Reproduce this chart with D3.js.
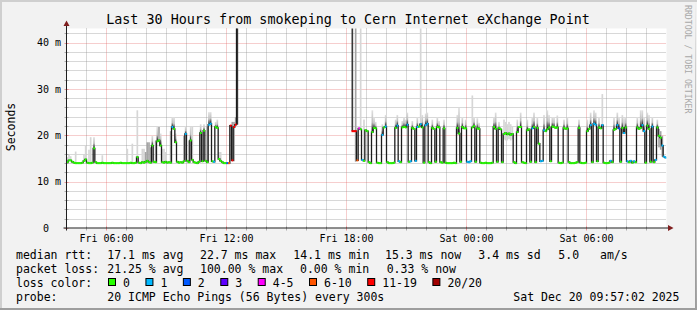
<!DOCTYPE html>
<html>
<head>
<meta charset="utf-8">
<script src="https://cdn.jsdelivr.net/npm/d3@7"></script>
<style>
  html, body { margin: 0; padding: 0; background: #f2f2f2; }
  svg { display: block; }
  text { font-family: "DejaVu Sans Mono", monospace; fill: #000; }
</style>
</head>
<body>
<svg id="chart" width="697" height="310"></svg>
<script>
// 5 minute steps from Fri 04:00, one row per hour
const start = new Date(2025, 11, 19, 4, 0)
const end = new Date(2025, 11, 20, 10, 0)
const stepMinutes = 5

const median = [
  14.3, 14.7, 14.7, 14.4, 14.2, 14.1, 14.1, 14.1, 14.1, 14.2, 14.6, 14.9,
  14.2, 14.1, 14.1, 14.2, 17.3, 14.3, 14.1, 14.1, 14.1, 14.2, 14.1, 14.1,
  14.1, 14.1, 14.1, 14.2, 14.1, 14.1, 14.1, 14.1, 14.2, 14.1, 14.1, 14.1,
  14.1, 14.1, 14.2, 14.1, 14.1, 14.2, 15.4, 14.2, 14.1, 14.3, 14.2, 14.4,
  14.6, 14.3, 14.2, 17.9, 14.4, 14.3, 18.8, 19.0, 17.9, 14.3, 14.2, 14.4,
  14.2, 14.3, 14.2, 21.9, 21.5, 18.6, 14.4, 14.2, 14.3, 14.2, 14.5, 20.4,
  14.6, 14.3, 19.0, 14.8, 14.3, 14.2, 14.1, 14.4, 20.6, 14.5, 21.1, 14.6,
  14.3, 22.4, 22.6, 14.5, 14.4, 21.9, 21.7, 15.0, 14.6, 14.3, 14.1, 14.1,
  14.1, 14.1, 22.2, 14.7, 21.9, 22.4, 80, null, null, null, null, null,
  null, null, null, null, null, null, null, null, null, null, null, null,
  null, null, null, null, null, null, null, null, null, null, null, null,
  null, null, null, null, null, null, null, null, null, null, null, null,
  null, null, null, null, null, null, null, null, null, null, null, null,
  null, null, null, null, null, null, null, null, null, null, null, null,
  null, null, null, 21.0, 21.0, 21.0, 14.7, 21.6, 21.4, 14.8, 14.6, 21.2,
  21.0, 14.3, 14.1, 20.8, 21.7, 21.6, 14.2, 14.1, 14.1, 20.2, 21.8, 22.0,
  14.3, 14.1, 14.1, 14.1, 14.2, 21.7, 22.2, 14.5, 14.3, 21.8, 21.9, 21.8,
  22.4, 14.4, 14.5, 21.7, 21.5, 14.6, 21.9, 22.0, 22.5, 21.8, 14.2, 22.3,
  22.6, 14.3, 14.1, 21.7, 21.5, 14.4, 21.9, 21.8, 14.3, 14.2, 21.6, 14.2,
  14.1, 14.1, 14.1, 14.1, 14.2, 14.1, 21.7, 20.5, 14.4, 21.9, 21.6, 21.6,
  14.4, 14.3, 14.5, 21.8, 22.1, 14.4, 21.6, 21.5, 14.2, 14.1, 14.1, 14.2,
  14.1, 14.1, 14.1, 14.2, 21.9, 21.5, 14.4, 21.7, 21.4, 14.3, 20.4, 20.6,
  20.3, 20.5, 20.2, 20.4, 14.3, 14.1, 20.8, 21.9, 21.9, 14.3, 14.2, 14.1,
  21.2, 21.4, 14.4, 21.6, 21.9, 14.3, 21.7, 18.3, 14.5, 14.6, 21.2, 21.0,
  21.4, 21.8, 14.5, 22.0, 21.9, 21.7, 21.8, 14.2, 14.1, 14.2, 21.7, 21.5,
  21.6, 14.3, 14.1, 14.1, 14.1, 14.2, 14.3, 21.7, 14.2, 14.1, 14.1, 14.2,
  21.0, 21.5, 22.3, 14.3, 22.6, 22.4, 14.5, 21.8, 21.6, 22.3, 14.2, 14.1,
  14.1, 14.2, 14.6, 14.3, 21.3, 21.5, 22.3, 21.6, 14.4, 21.7, 20.6, 21.8,
  14.5, 14.3, 14.6, 14.2, 14.5, 14.3, 21.8, 21.5, 21.7, 22.3, 21.0, 14.2,
  22.2, 21.5, 14.4, 22.0, 14.3, 14.8, 21.8, 20.0, 19.6, 17.9, 15.5, 15.3
]

// [step, lost pings of 20]; every other step lost nothing
const lostPings = [
  [63, 1], [71, 1], [85, 1], [86, 1], [88, 1], [96, 2], [97, 8], [98, 12],
  [99, 15], [100, 15], [101, 15], [102, 19], [171, 15], [172, 15], [173, 15],
  [174, 8], [175, 4], [177, 1], [189, 1], [191, 1], [198, 1], [199, 1],
  [204, 1], [206, 1], [209, 1], [210, 1], [212, 1], [215, 1], [216, 1],
  [240, 1], [241, 1], [242, 1], [279, 1], [284, 1], [285, 1], [286, 1],
  [314, 1], [316, 1], [317, 1], [321, 1], [326, 1], [330, 1], [331, 2],
  [334, 1], [336, 1], [338, 1], [340, 1], [345, 1], [346, 1], [351, 1],
  [353, 1], [357, 1], [358, 1], [359, 1]
]

// smoke: [step, low ms, high ms, shade 0 light / 1 mid / 2 dark / 3 graded]
const smoke = [
  [0, 14.3, 15.4, 0], [1, 14.7, 16.0, 0], [2, 14.7, 15.6, 0], [5, 14.1, 16.6, 0],
  [10, 14.6, 16.0, 0], [11, 14.9, 17.9, 0], [13, 14.1, 17.0, 0], [14, 14.1, 19.7, 0],
  [16, 17.3, 19.7, 3], [21, 14.1, 15.8, 0], [36, 14.1, 17.2, 0], [39, 14.1, 18.3, 0],
  [42, 15.4, 25.5, 0], [45, 14.3, 17.2, 0], [46, 14.2, 17.2, 0], [47, 14.4, 16.5, 1],
  [48, 14.6, 18.6, 1], [49, 14.3, 18.6, 1], [50, 14.2, 17.5, 1], [51, 17.9, 20.0, 3],
  [53, 14.3, 19.0, 1], [54, 18.8, 21.9, 3], [55, 19.0, 21.9, 1], [56, 17.9, 20.5, 3],
  [57, 14.3, 17.2, 0], [58, 14.2, 17.2, 0], [59, 14.4, 16.5, 0], [62, 14.2, 21.0, 1],
  [63, 21.9, 24.0, 3], [64, 21.5, 24.0, 3], [65, 18.6, 20.5, 3], [70, 14.5, 20.0, 1],
  [71, 20.4, 22.0, 3], [73, 14.3, 19.0, 1], [74, 19.0, 21.9, 3], [75, 14.8, 21.9, 0],
  [80, 20.6, 22.5, 3], [82, 21.1, 22.5, 3], [84, 14.3, 22.0, 1], [85, 22.4, 25.1, 3],
  [86, 22.6, 25.1, 3], [89, 21.9, 23.0, 3], [90, 21.7, 23.5, 3], [91, 15.0, 16.5, 0],
  [92, 14.6, 16.5, 0], [99, 14.5, 23.0, 1], [100, 14.5, 23.0, 1], [101, 22.4, 24.0, 1],
  [102, 22.4, 60, 2],
  [171, 21.0, 60, 2], [173, 14.4, 60, 1], [176, 21.4, 60, 0],
  [178, 14.6, 23.5, 0], [183, 20.8, 25.5, 3], [184, 21.7, 24.0, 3],
  [185, 21.6, 23.0, 3], [189, 20.2, 22.5, 3], [191, 22.0, 24.5, 3], [197, 21.7, 23.5, 3],
  [198, 22.2, 24.5, 3], [201, 21.8, 23.2, 3], [202, 21.9, 24.0, 3], [203, 21.8, 23.5, 3],
  [204, 22.4, 25.0, 3], [207, 21.7, 23.2, 3], [210, 21.9, 24.0, 3], [212, 22.5, 44, 0],
  [213, 21.8, 24.5, 3], [215, 22.3, 24.8, 3], [216, 22.6, 25.0, 3], [219, 21.7, 23.5, 3],
  [222, 21.9, 24.0, 3], [223, 21.8, 23.2, 3], [226, 21.6, 23.5, 3], [234, 21.7, 24.5, 3],
  [235, 20.5, 26.0, 3], [237, 21.9, 24.0, 3], [239, 21.6, 23.5, 3], [243, 21.8, 28.7, 0],
  [244, 22.1, 24.0, 3], [246, 21.6, 23.8, 3], [247, 21.5, 22.8, 3], [256, 21.9, 24.0, 3],
  [257, 21.5, 25.0, 3], [259, 21.4, 23.0, 3], [262, 19.2, 23.5, 0], [263, 19.0, 23.0, 0],
  [264, 19.0, 22.5, 0], [265, 19.3, 23.0, 0], [266, 19.0, 22.5, 0], [267, 19.2, 22.0, 0],
  [270, 20.8, 23.5, 3], [272, 21.9, 25.0, 3], [276, 21.2, 23.5, 3], [279, 21.6, 24.0, 3],
  [280, 21.9, 25.0, 3], [282, 21.7, 24.0, 3], [286, 21.2, 24.5, 3], [288, 21.4, 25.5, 3],
  [289, 21.8, 24.5, 3], [291, 22.0, 24.0, 3], [292, 21.9, 24.0, 3], [294, 21.8, 24.4, 3],
  [298, 21.7, 23.5, 3], [300, 21.6, 24.0, 3], [307, 21.7, 23.5, 3], [312, 21.0, 23.5, 3],
  [314, 22.3, 25.0, 3], [316, 22.6, 25.5, 3], [317, 22.4, 25.0, 3], [319, 21.8, 24.0, 3],
  [321, 22.3, 29.0, 0], [328, 21.3, 24.0, 3], [330, 22.3, 25.0, 3], [331, 21.6, 24.0, 3],
  [333, 21.7, 24.5, 3], [334, 20.6, 23.8, 3], [335, 21.8, 24.0, 3], [342, 21.8, 24.0, 3],
  [344, 21.7, 25.5, 3], [345, 22.3, 25.5, 3], [346, 21.0, 24.0, 3], [348, 22.2, 25.0, 3],
  [349, 21.5, 24.5, 3], [351, 22.0, 24.0, 3], [354, 21.8, 23.5, 3], [355, 17.5, 21.5, 1],
  [356, 17.0, 21.0, 1], [357, 15.5, 20.0, 1]
]
const smokeShades = ['#d6d6d6', '#a4a4a4', '#383838', 'url(#haze)']

const lossLabels = ['0', '1', '2', '3', '4-5', '6-10', '11-19', '20/20']
const lossColors = ['#26ff00', '#00b8ff', '#0059ff', '#5e00ff', '#ff00fe', '#ff5500', '#ff0000', '#a10000']
const lossUpper = [0, 1, 2, 3, 5, 10, 19, 20]

const yTicks = [0, 10, 20, 30, 40]
const yTickLabels = ['0\u00a0\u00a0', '10 m', '20 m', '30 m', '40 m']

const rttValues = ['17.1', '22.7', '14.1', '15.3']
const lossValues = ['21.25', '100.00', '0.00', '0.33']
const statNames = ['avg', 'max', 'min', 'now']
const rttSd = '3.4'
const rttAms = '5.0'

const title = 'Last 30 Hours from smokeping to Cern Internet eXchange Point'
const probeText = '20 ICMP Echo Pings (56 Bytes) every 300s'
const stampText = 'Sat Dec 20 09:57:02 2025'

const W = 697, H = 310
const pL = 66.5, pR = 666.5, pT = 28.5, pB = 228.5
const svg = d3.select('#chart')

const x = d3.scaleTime().domain([start, end]).range([pL, pR])
const y = d3.scaleLinear().domain([0, 43.15]).range([pB, pT])
const stepTime = i => new Date(+start + i * stepMinutes * 60000)
const lossOf = new Map(lostPings)
const colorOf = c => lossColors[lossUpper.findIndex(u => c <= u)]
const crisp = v => Math.round(v - 0.5) + 0.5

const defs = svg.append('defs')
const haze = defs.append('linearGradient').attr('id', 'haze')
  .attr('x1', 0).attr('y1', 1).attr('x2', 0).attr('y2', 0)
haze.selectAll('stop')
  .data([[0, '#262626'], [0.2, '#5a5a5a'], [0.45, '#bdbdbd'], [1, '#e0e0e0']])
  .enter().append('stop')
  .attr('offset', d => d[0]).attr('stop-color', d => d[1])

// background and 3d frame
svg.append('rect').attr('width', W).attr('height', H).attr('fill', '#f2f2f2')
svg.append('path').attr('d', `M0,0H${W}V2H2V${H}H0Z`).attr('fill', '#cfcfcf')
svg.append('path').attr('d', `M${W},${H}H0V${H - 2}H${W - 2}V0Z`).attr('fill', '#9e9e9e')
svg.append('rect').attr('x', pL).attr('y', pT)
  .attr('width', pR - pL).attr('height', pB - pT).attr('fill', '#fff')

// grid
const gridMinor = 'rgba(143,143,143,0.7)'
const gridMajor = 'rgba(222,79,79,0.55)'
const grid = svg.append('g').attr('stroke-width', 1).attr('stroke-dasharray', '1,1')
const hours = d3.timeHour.range(d3.timeHour.offset(start, 1), end)
grid.selectAll('line.v')
  .data(hours)
  .enter().append('line')
  .attr('x1', d => x(d)).attr('x2', d => x(d))
  .attr('y1', pT).attr('y2', pB)
  .attr('stroke', d => d.getHours() % 6 === 0 ? gridMajor : gridMinor)
const yMinor = d3.range(2, 43, 2)
grid.selectAll('line.h')
  .data(yMinor)
  .enter().append('line')
  .attr('x1', pL).attr('x2', pR)
  .attr('y1', d => crisp(y(d))).attr('y2', d => crisp(y(d)))
  .attr('stroke', d => d % 10 === 0 ? gridMajor : gridMinor)

// plot
defs.append('clipPath').attr('id', 'plot')
  .append('rect').attr('x', pL).attr('y', pT).attr('width', pR - pL).attr('height', pB - pT)
const plot = svg.append('g').attr('clip-path', 'url(#plot)')

plot.selectAll('rect.smoke')
  .data(smoke)
  .enter().append('rect')
  .attr('x', d => x(stepTime(d[0])))
  .attr('width', d => x(stepTime(d[0] + 1)) - x(stepTime(d[0])))
  .attr('y', d => y(d[2]))
  .attr('height', d => y(d[1]) - y(d[2]))
  .attr('fill', d => smokeShades[d[3]])

const points = median.map((m, i) => ({ t: stepTime(i + 0.5), m, i }))
const stepLine = d3.line()
  .defined(d => d.m != null)
  .x(d => x(d.t))
  .y(d => y(d.m))
  .curve(d3.curveStep)
plot.append('path')
  .attr('d', stepLine(points))
  .attr('fill', 'none')
  .attr('stroke', '#1c1c1c')
  .attr('stroke-width', 1.3)

plot.selectAll('rect.med')
  .data(points.filter(d => d.m != null))
  .enter().append('rect')
  .attr('x', d => x(stepTime(d.i)))
  .attr('width', d => x(stepTime(d.i + 1)) - x(stepTime(d.i)) + 0.2)
  .attr('y', d => y(d.m) - 1)
  .attr('height', 2)
  .attr('fill', d => colorOf(lossOf.get(d.i) || 0))

// axes
const axisColor = '#1f1f1f'
const arrowColor = '#801f1f'
svg.selectAll('line.xt')
  .data(hours)
  .enter().append('line')
  .attr('x1', d => x(d)).attr('x2', d => x(d))
  .attr('y1', pB - 2).attr('y2', pB + 2)
  .attr('stroke', d => d.getHours() % 6 === 0 ? gridMajor : gridMinor)
svg.selectAll('line.yt')
  .data(d3.range(0, 43, 2))
  .enter().append('line')
  .attr('x1', pL - 2).attr('x2', pL + 2)
  .attr('y1', d => crisp(y(d))).attr('y2', d => crisp(y(d)))
  .attr('stroke', d => d % 10 === 0 ? gridMajor : gridMinor)
svg.append('line').attr('x1', pL - 3).attr('x2', pR + 2)
  .attr('y1', pB - 0.5).attr('y2', pB - 0.5).attr('stroke', axisColor)
svg.append('line').attr('x1', pL).attr('x2', pL)
  .attr('y1', pB + 2).attr('y2', pT - 3).attr('stroke', axisColor)
svg.append('path').attr('d', `M${pL},${pT - 8}L${pL - 3},${pT - 2.5}L${pL + 3},${pT - 2.5}Z`).attr('fill', arrowColor)
svg.append('path').attr('d', `M${pR + 7},${pB - 0.5}L${pR + 1.5},${pB - 3.5}L${pR + 1.5},${pB + 2.5}Z`).attr('fill', arrowColor)

// tick labels
svg.selectAll('text.yl')
  .data(yTicks)
  .enter().append('text')
  .attr('x', 61).attr('y', d => y(d) + 3.3)
  .attr('text-anchor', 'end')
  .attr('font-size', 10)
  .style('white-space', 'pre')
  .text((d, i) => yTickLabels[i])
const fmt = d3.timeFormat('%a %H:%M')
svg.selectAll('text.xl')
  .data(hours.filter(d => d.getHours() % 6 === 0))
  .enter().append('text')
  .attr('x', d => x(d)).attr('y', 242)
  .attr('text-anchor', 'middle')
  .attr('font-size', 10)
  .text(fmt)

// titles
svg.append('text').attr('x', 348).attr('y', 24).attr('text-anchor', 'middle')
  .attr('font-size', 13.4).text(title)
svg.append('text').attr('transform', 'translate(15,127) rotate(-90)').attr('text-anchor', 'middle')
  .attr('font-size', 11.5).text('Seconds')
svg.append('text').attr('transform', 'translate(685,5) rotate(90)')
  .attr('font-size', 8.2).style('fill', '#a8a8a8').text('RRDTOOL / TOBI OETIKER')

// legend
const legend = svg.append('g').attr('font-size', 11.5).style('white-space', 'pre')
const row = (yy, cells) => cells.forEach(([xx, t]) => legend.append('text').attr('x', xx).attr('y', yy).text(t))
row(258.5, [
  [16, 'median rtt:'],
  [107.3, `${rttValues[0]} ms ${statNames[0]}`],
  [200, `${rttValues[1]} ms ${statNames[1]}`],
  [293.3, `${rttValues[2]} ms ${statNames[2]}`],
  [385, `${rttValues[3]} ms ${statNames[3]}`],
  [478.3, `${rttSd} ms sd`],
  [558.3, rttAms],
  [600, 'am/s']
])
row(272.5, [
  [16, 'packet loss:'],
  [107.3, `${lossValues[0]} % ${statNames[0]}`],
  [200, `${lossValues[1]} % ${statNames[1]}`],
  [300, `${lossValues[2]} % ${statNames[2]}`],
  [386.7, `${lossValues[3]} % ${statNames[3]}`]
])
row(286.5, [[16, 'loss color:']])
let cursor = 108
lossLabels.forEach((label, i) => {
  legend.append('rect').attr('x', cursor + 0.5).attr('y', 278.5).attr('width', 7).attr('height', 7)
    .attr('fill', lossColors[i]).attr('stroke', '#000').attr('stroke-width', 1)
  legend.append('text').attr('x', cursor + 15).attr('y', 286.5).text(label)
  cursor += 15 + label.length * 6.93 + 15.5
})
row(300.5, [[16, 'probe:'], [107.3, probeText], [513.3, stampText]])
</script>
</body>
</html>
